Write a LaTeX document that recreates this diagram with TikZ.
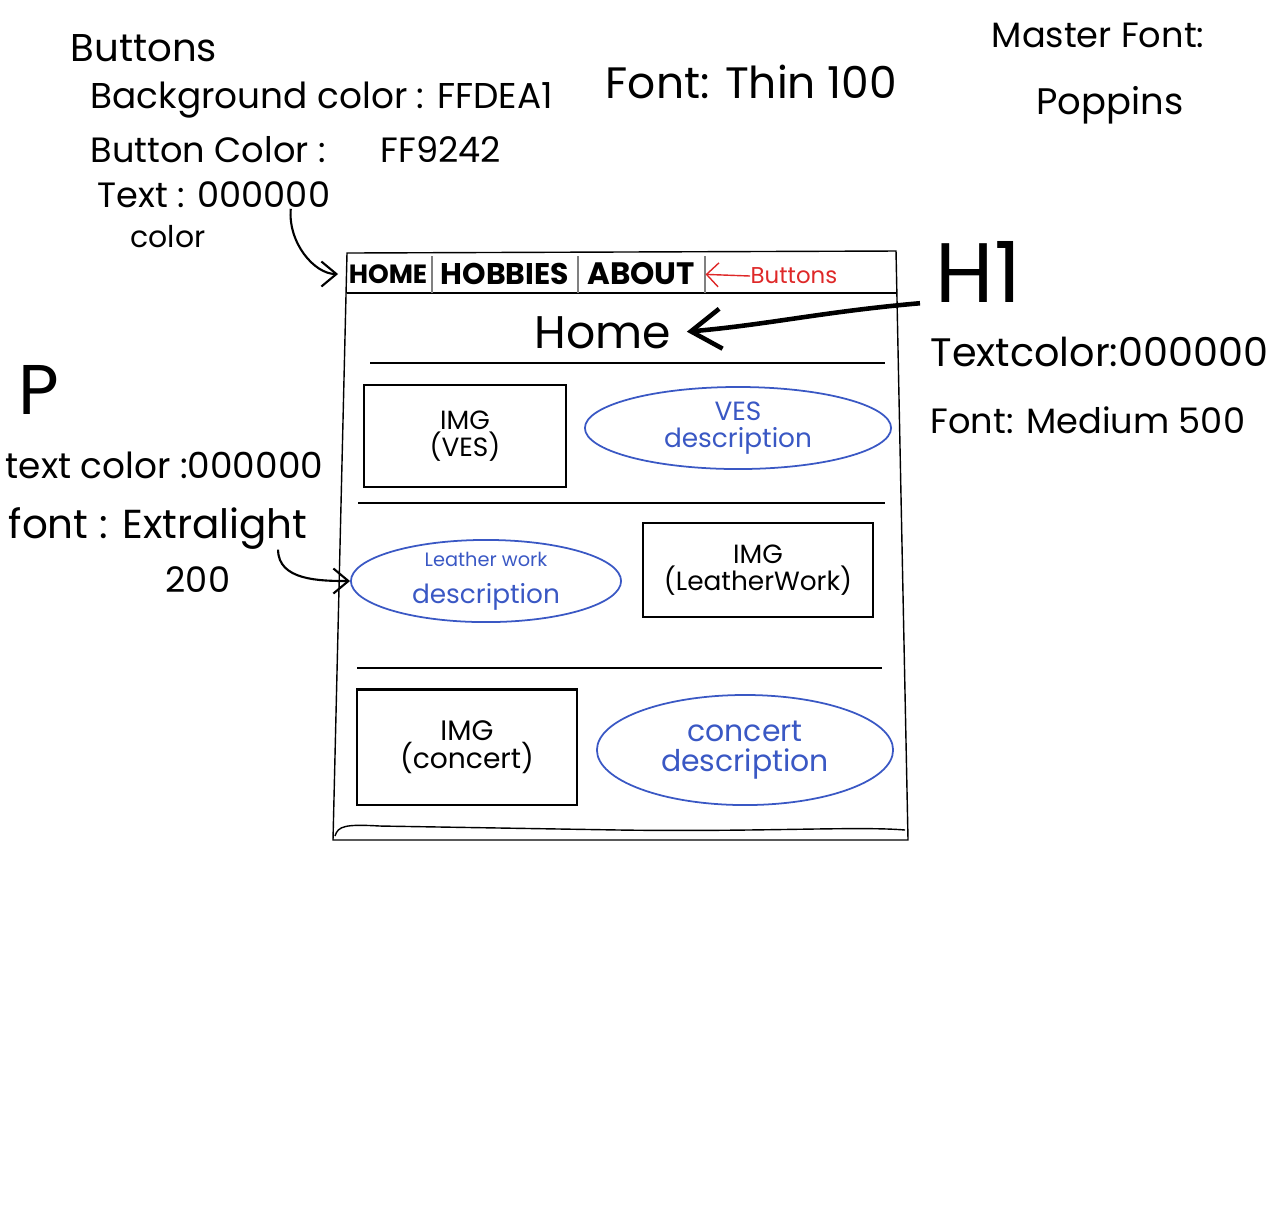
\documentclass[tikz,border=0pt]{standalone}
\usepackage{fontspec}
\setmainfont{Poppins}
\usetikzlibrary{shapes.geometric,arrows.meta}
\definecolor{penblue}{RGB}{58,88,196}
\definecolor{penred}{RGB}{222,40,40}
\newcommand{\penfont}[1]{\fontsize{#1}{#1}\selectfont}
\begin{document}
\begin{tikzpicture}[x=0.01cm, y=-0.01cm,
    note/.style={inner sep=0pt, anchor=west, align=left},
    imgbox/.style={draw, line width=0.6pt, align=center, inner sep=0pt},
    descbox/.style={draw=penblue, text=penblue, ellipse, line width=0.5pt, align=center, inner sep=0pt},
    navbtn/.style={inner sep=0pt, font=\penfont{7.5}\bfseries},
    pen/.style={line width=0.6pt, -{Straight Barb[length=1.5mm, width=2.5mm]}}]
    \useasboundingbox (0,0) rectangle (1280,1211);

    \node[note, font=\penfont{11}] (btnhead) at (70,48) {Buttons};
    \node[note, font=\penfont{10.2}] (btnbg) at (90,100) {Background color : FFDEA1};
    \node[note, font=\penfont{10}] (btncol) at (90,150) {Button Color :\hspace{0.55cm}FF9242};
    \node[note, font=\penfont{10}] (btntext) at (97,195) {Text : 000000};
    \node[note, font=\penfont{8.5}] (btntextb) at (130,237) {color};
    \node[note, font=\penfont{12.5}] (fontthin) at (605,82) {Font: Thin 100};
    \node[inner sep=0pt, font=\penfont{10}] (master) at (1098,35) {Master Font:};
    \node[inner sep=0pt, font=\penfont{10.5}] (poppins) at (1110,105) {Poppins};
    \node[note, font=\penfont{24}] (hone) at (935,272) {H1};
    \node[note, font=\penfont{11.3}] (honecolor) at (930,352) {Textcolor:000000};
    \node[note, font=\penfont{10}] (honefont) at (930,420) {Font: Medium 500};
    \node[note, font=\penfont{20}] (ptag) at (18,390) {P};
    \node[note, font=\penfont{10.2}] (pcolor) at (5,465) {text color :000000};
    \node[note, font=\penfont{11.5}] (pfont) at (8,528) {font : Extralight};
    \node[note, font=\penfont{10}] (pweight) at (165,580) {200};

    \draw[line width=0.4pt] (347,253) -- (896,251) -- (908,840) -- (333,840) -- cycle;
    \draw[line width=0.4pt] (335,836) .. controls (338,826) and (345,824) .. (380,826) -- (620,830) .. controls (760,832) and (860,826) .. (905,830);
    \draw[line width=0.4pt] (347,293) -- (897,293);
    \draw[gray, line width=0.3pt] (432,256) -- (432,293) (578,256) -- (578,293) (705,256) -- (705,293);

    \node[navbtn] (navhome) at (388,274) {HOME};
    \node[navbtn, font=\penfont{8.5}\bfseries] (navhobbies) at (505,274) {HOBBIES};
    \node[navbtn, font=\penfont{8.8}\bfseries] (navabout) at (641,274) {ABOUT};
    \node[note, text=penred, font=\penfont{6.5}] (navlabel) at (750,276) {Buttons};
    \draw[penred, line width=0.4pt, -{Straight Barb[length=1.2mm, width=2.4mm]}, shorten >=0.1cm] (navlabel.west) -- (navabout.east);

    \node[inner sep=0pt, font=\penfont{13}] (homehead) at (603,333) {Home};
    \draw[line width=1.3pt, -{Straight Barb[length=3mm, width=4mm]}, shorten >=0.15cm] ([xshift=-0.15cm]hone.south west) to[out=185, in=5] (homehead.east);

    \draw[line width=0.6pt] (370,363) -- (885,363) (358,503) -- (885,503) (357,668) -- (882,668);

    \node[imgbox, minimum width=2.02cm, minimum height=1.02cm, font=\penfont{7.5}] (imgves) at (465,436) {IMG\\(VES)};
    \node[descbox, minimum width=3.06cm, minimum height=0.82cm, font=\penfont{7.5}] (descves) at (738,428) {VES\\description};

    \node[descbox, minimum width=2.7cm, minimum height=0.8cm] (descleather) at (486,581) {{\penfont{5.5}Leather work}\\[-1.5pt]{\penfont{7.5}description}};
    \node[imgbox, minimum width=2.3cm, minimum height=0.94cm, font=\penfont{7.5}] (imgleather) at (758,570) {IMG\\(LeatherWork)};

    \node[imgbox, minimum width=2.2cm, minimum height=1.15cm, font=\penfont{8}] (imgconcert) at (467,747) {IMG\\(concert)};
    \node[descbox, minimum width=2.96cm, minimum height=1.1cm, font=\penfont{8.5}] (descconcert) at (745,750) {concert\\description};

    \draw[pen, shorten >=0.1cm] ([xshift=-0.4cm]btntext.south east) to[out=-95, in=180] (navhome.west);
    \draw[pen] ([xshift=-0.3cm]pfont.south east) to[out=-90, in=180] (descleather.west);
\end{tikzpicture}
\end{document}
